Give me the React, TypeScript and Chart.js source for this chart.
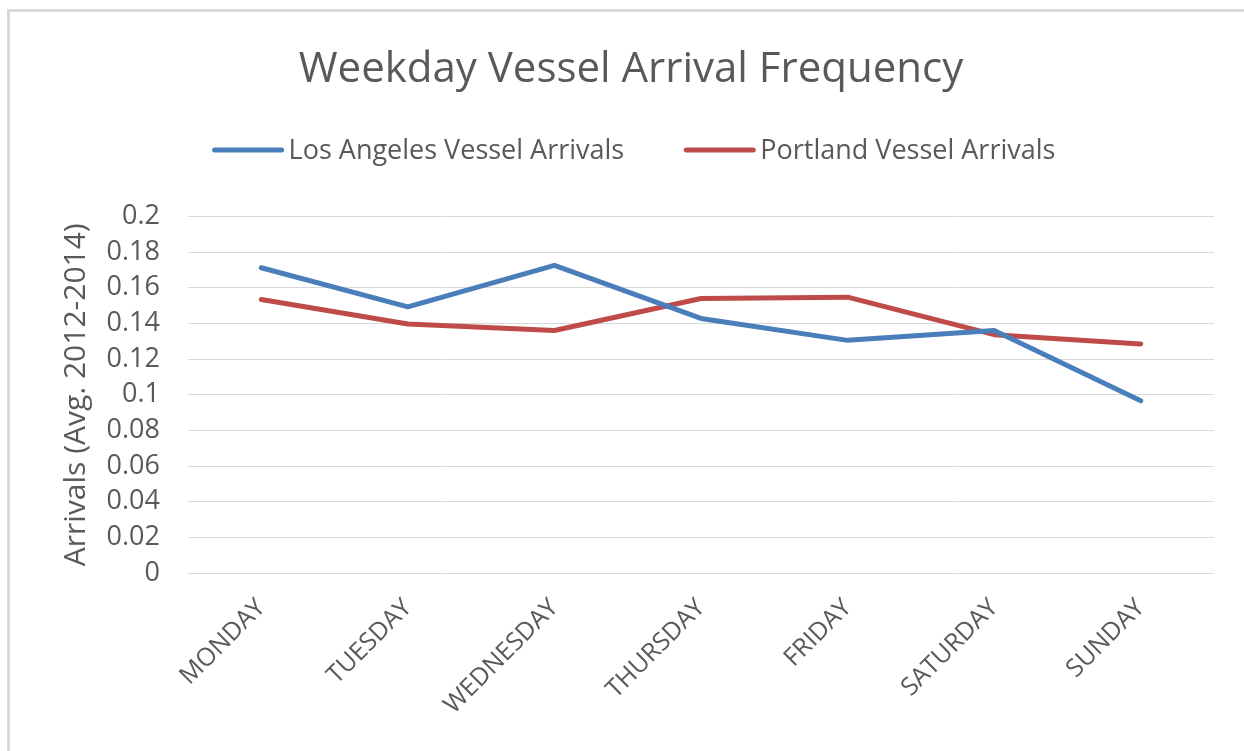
import React, { useEffect, useRef } from "react";
import { Chart, registerables } from "chart.js";

Chart.register(...registerables);

const days = ["MONDAY", "TUESDAY", "WEDNESDAY", "THURSDAY", "FRIDAY", "SATURDAY", "SUNDAY"];
const losAngeles = [0.1712, 0.1493, 0.1725, 0.1428, 0.1305, 0.136, 0.0966];
const portland = [0.1534, 0.1397, 0.136, 0.154, 0.1547, 0.1337, 0.1285];
const yTicks = [0, 0.02, 0.04, 0.06, 0.08, 0.1, 0.12, 0.14, 0.16, 0.18, 0.2];
const seriesNames = ["Los Angeles Vessel Arrivals", "Portland Vessel Arrivals"];

const FONT = "'Open Sans', sans-serif";
const TEXT = "#595959";
const GRID = "#d9d9d9";
const BLUE = "#4a7ebb";
const RED = "#be4b48";

const framePlugin = {
  id: "frame",
  beforeDraw(chart: any) {
    const ctx = chart.ctx;
    ctx.save();
    ctx.fillStyle = "#ffffff";
    ctx.fillRect(0, 0, chart.width, chart.height);
    ctx.fillStyle = "#d9d9d9";
    ctx.fillRect(7, 9, chart.width - 7, 3);
    ctx.fillRect(7, 9, 3, chart.height - 9);
    ctx.restore();
  },
};

const legendPlugin = {
  id: "customLegend",
  afterDraw(chart: any) {
    const ctx = chart.ctx;
    const lineLen = 71;
    const gap = 5;
    const itemGap = 60;
    const y = 150;
    const centerX = 634;
    ctx.save();
    ctx.font = `27px ${FONT}`;
    const items = chart.data.datasets.map((ds: any) => ({
      color: ds.borderColor,
      text: ds.label,
      w: lineLen + gap + ctx.measureText(ds.label).width,
    }));
    const total = items.reduce((a: number, it: any) => a + it.w, 0) + itemGap * (items.length - 1);
    let x = centerX - total / 2;
    for (const it of items) {
      ctx.strokeStyle = it.color;
      ctx.lineWidth = 5;
      ctx.lineCap = "round";
      ctx.beginPath();
      ctx.moveTo(x + 2, y);
      ctx.lineTo(x + lineLen - 2, y);
      ctx.stroke();
      ctx.fillStyle = TEXT;
      ctx.textBaseline = "middle";
      ctx.textAlign = "left";
      ctx.fillText(it.text, x + lineLen + gap, y + 1);
      x += it.w + itemGap;
    }
    ctx.restore();
  },
};

export default function App() {
  const ref = useRef<HTMLCanvasElement | null>(null);

  useEffect(() => {
    if (!ref.current) return;
    const chart = new Chart(ref.current, {
      type: "line",
      data: {
        labels: days,
        datasets: [
          {
            label: seriesNames[0],
            data: losAngeles,
            borderColor: BLUE,
            backgroundColor: BLUE,
            borderWidth: 5,
            pointRadius: 0,
            borderCapStyle: "round",
            borderJoinStyle: "round",
            tension: 0,
          },
          {
            label: seriesNames[1],
            data: portland,
            borderColor: RED,
            backgroundColor: RED,
            borderWidth: 5,
            pointRadius: 0,
            borderCapStyle: "round",
            borderJoinStyle: "round",
            tension: 0,
          },
        ],
      },
      plugins: [framePlugin, legendPlugin],
      options: {
        animation: false,
        responsive: false,
        maintainAspectRatio: false,
        layout: { padding: { top: 0, left: 48, right: 30, bottom: 11 } },
        plugins: {
          title: {
            display: true,
            text: "Weekday Vessel Arrival Frequency",
            color: TEXT,
            font: { family: FONT, size: 42, weight: "normal" },
            padding: { top: 45, bottom: 121 },
          },
          legend: { display: false },
          tooltip: { enabled: false },
        },
        scales: {
          x: {
            offset: true,
            grid: { display: false, drawTicks: false },
            border: { display: false },
            afterFit: (s: any) => {
              s.paddingLeft = 0;
              s.paddingRight = 0;
            },
            ticks: {
              color: TEXT,
              font: { family: FONT, size: 25 },
              minRotation: 45,
              maxRotation: 45,
              padding: 20,
            },
          },
          y: {
            min: 0,
            max: 0.2,
            afterBuildTicks: (s: any) => {
              s.ticks = yTicks.map((v) => ({ value: v }));
            },
            afterFit: (s: any) => {
              s.width = 140;
            },
            grid: { color: GRID, lineWidth: 1, drawTicks: false },
            border: { display: false },
            ticks: {
              autoSkip: false,
              color: TEXT,
              font: { family: FONT, size: 27, lineHeight: 1 },
              padding: 28,
              callback: (v: any) => String(Number(Number(v).toFixed(2))),
            },
            title: {
              display: true,
              text: "Arrivals (Avg. 2012-2014)",
              color: TEXT,
              font: { family: FONT, size: 30 },
              padding: { top: 10, bottom: 10 },
            },
          },
        },
      },
    });
    return () => chart.destroy();
  }, []);

  return (
    <div>
      <canvas
        ref={ref}
        width={1244}
        height={751}
        style={{ position: "fixed", left: 0, top: 0, width: 1244, height: 751 }}
      />
    </div>
  );
}
